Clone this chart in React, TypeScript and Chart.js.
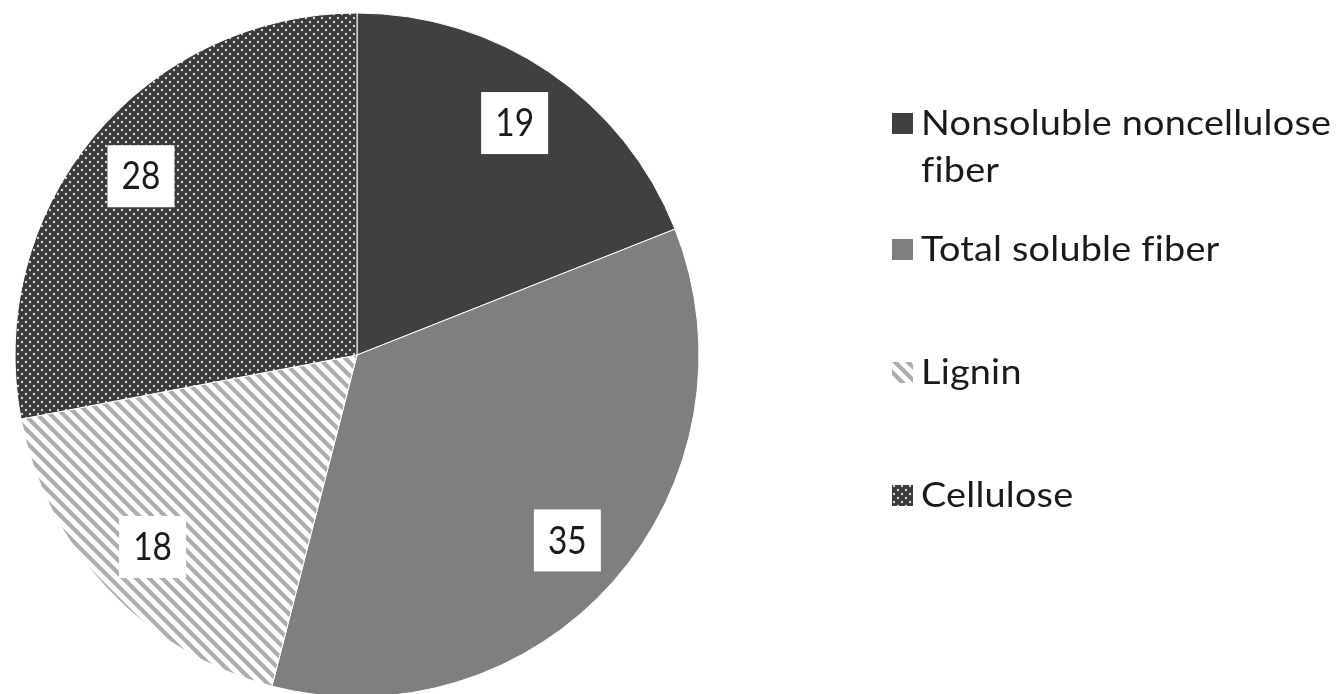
import React, { useEffect, useRef } from "react";
import { Chart, registerables } from "chart.js";

Chart.register(...registerables);

// Fiber composition (%)
const categories = ["Nonsoluble noncellulose fiber", "Total soluble fiber", "Lignin", "Cellulose"];
const values = [19, 35, 18, 28];

const FONT = "Lato, 'Open Sans', sans-serif";
const W = 1342;
const H = 704;

function dotPattern(): CanvasPattern {
  const c = document.createElement("canvas");
  c.width = 8;
  c.height = 8;
  const g = c.getContext("2d")!;
  g.fillStyle = "#3a3a3a";
  g.fillRect(0, 0, 8, 8);
  g.fillStyle = "#d6d6d6";
  for (const [x, y] of [[2, 2], [6, 6]]) {
    g.beginPath();
    g.arc(x, y, 1.2, 0, Math.PI * 2);
    g.fill();
  }
  return g.createPattern(c, "repeat")!;
}

function stripePattern(): CanvasPattern {
  const s = 13;
  const c = document.createElement("canvas");
  c.width = s;
  c.height = s;
  const g = c.getContext("2d")!;
  g.fillStyle = "#ffffff";
  g.fillRect(0, 0, s, s);
  g.strokeStyle = "#adadad";
  g.lineWidth = 4.2;
  for (const k of [-s, 0, s]) {
    g.beginPath();
    g.moveTo(-3, -3 + k);
    g.lineTo(s + 3, s + 3 + k);
    g.stroke();
  }
  return g.createPattern(c, "repeat")!;
}

function wrap(ctx: CanvasRenderingContext2D, text: string, maxW: number): string[] {
  const words = text.split(" ");
  const lines: string[] = [];
  let cur = "";
  for (const w of words) {
    const t = cur ? cur + " " + w : w;
    if (cur && ctx.measureText(t).width > maxW) {
      lines.push(cur);
      cur = w;
    } else {
      cur = t;
    }
  }
  if (cur) lines.push(cur);
  return lines;
}

// Value boxes at ~82% of the radius plus the legend on the right
const overlay = {
  id: "overlay",
  afterDraw(chart: any) {
    const ctx: any = chart.ctx;
    const meta = chart.getDatasetMeta(0);
    const ds = chart.data.datasets[0];

    ctx.save();
    ctx.font = `38px ${FONT}`;
    ctx.textAlign = "center";
    ctx.textBaseline = "middle";
    meta.data.forEach((arc: any, i: number) => {
      const p = arc.getProps(["x", "y", "startAngle", "endAngle", "outerRadius"], true);
      const mid = (p.startAngle + p.endAngle) / 2;
      const cx = p.x + Math.cos(mid) * p.outerRadius * 0.82;
      const cy = p.y + Math.sin(mid) * p.outerRadius * 0.82;
      const bw = 67;
      const bh = 62;
      ctx.fillStyle = "#ffffff";
      ctx.fillRect(cx - bw / 2, cy - bh / 2, bw, bh);
      ctx.fillStyle = "#1a1a1a";
      ctx.save();
      ctx.translate(cx, cy + 1);
      ctx.scale(0.88, 1);
      ctx.fillText(String(ds.data[i]), 0, 0);
      ctx.restore();
    });

    // legend
    ctx.font = `35px ${FONT}`;
    ctx.letterSpacing = "0.2px";
    ctx.textAlign = "left";
    ctx.textBaseline = "alphabetic";
    const baselines = [135, 261, 384, 507];
    const lineH = 47;
    const markX = 892;
    const markS = 21;
    const textX = 921;
    const sx = 1.08;
    chart.data.labels.forEach((lab: string, i: number) => {
      const b = baselines[i];
      ctx.fillStyle = ds.backgroundColor[i];
      ctx.fillRect(markX, b - 22, markS, markS);
      ctx.fillStyle = "#1a1a1a";
      const lines = wrap(ctx, lab, 415 / sx);
      lines.forEach((ln, j) => {
        ctx.save();
        ctx.translate(textX, b + j * lineH);
        ctx.scale(sx, 1);
        ctx.fillText(ln, 0, 0);
        ctx.restore();
      });
    });
    ctx.restore();
  },
};

export default function App() {
  const ref = useRef<HTMLCanvasElement>(null);

  useEffect(() => {
    const cv = ref.current!;
    const chart = new Chart(cv, {
      type: "pie",
      data: {
        labels: categories,
        datasets: [
          {
            data: values,
            backgroundColor: ["#404040", "#7f7f7f", stripePattern(), dotPattern()] as any,
            borderColor: "#ffffff",
            borderWidth: 1,
          },
        ],
      },
      options: {
        responsive: false,
        animation: false,
        radius: 342,
        layout: { padding: { left: 15, right: 643, top: 13, bottom: 7 } },
        plugins: {
          legend: { display: false },
          tooltip: { enabled: false },
        },
      } as any,
      plugins: [overlay],
    });
    return () => chart.destroy();
  }, []);

  return (
    <div
      style={{
        position: "fixed",
        left: 0,
        top: 0,
        width: W,
        height: 694,
        overflow: "hidden",
        background: "#ffffff",
      }}
    >
      <canvas ref={ref} width={W} height={H} style={{ display: "block", width: W, height: H }} />
    </div>
  );
}
